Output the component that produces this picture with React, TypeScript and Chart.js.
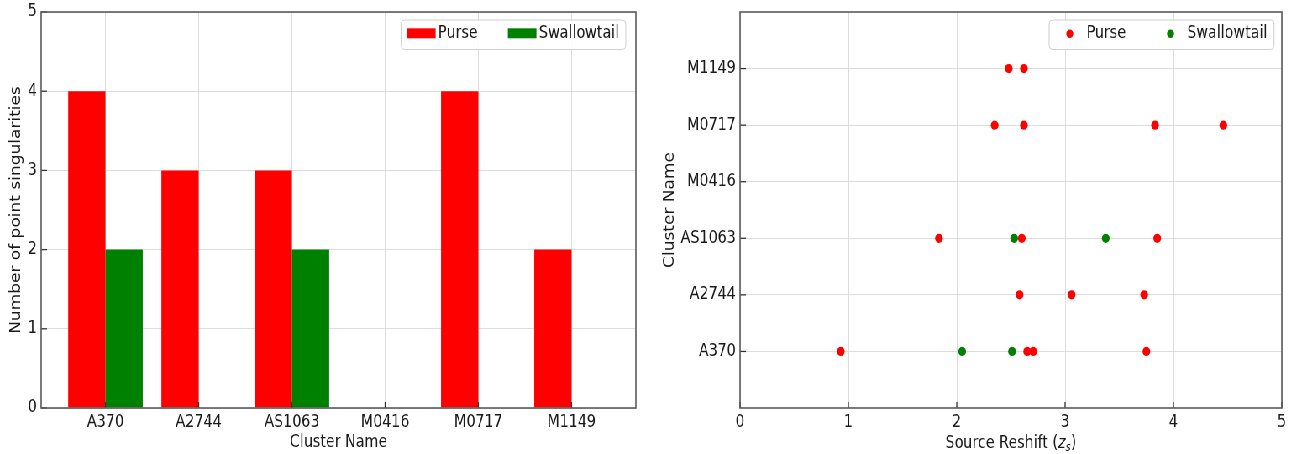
import React, { useEffect, useRef } from 'react';
import { Chart, registerables } from 'chart.js';

Chart.register(...registerables);

// ---------------- data ----------------
const clusters = ['A370', 'A2744', 'AS1063', 'M0416', 'M0717', 'M1149'];
const seriesNames = ['Purse', 'Swallowtail'];
const purseCounts = [4, 3, 3, 0, 4, 2];
const swallowtailCounts = [2, 0, 2, 0, 0, 0];
const purseRedshifts = [
  [0.93, 2.65, 2.705, 3.75],
  [2.58, 3.06, 3.73],
  [1.836, 2.6, 3.85],
  [],
  [2.35, 2.62, 3.83, 4.46],
  [2.48, 2.62],
];
const swallowtailRedshifts = [[2.05, 2.51], [], [2.53, 3.375], [], [], []];
const countTicks = [0, 1, 2, 3, 4, 5];
const redshiftTicks = [0, 1, 2, 3, 4, 5];

// ---------------- styles ----------------
const SX = 0.84;
const FAMILY = "'DejaVu Sans', sans-serif";
const FS = 17;
const TEXT = '#1a1a1a';
const GRID = '#dcdcdc';
const SPINE = '#5a5a5a';
const RED = '#ff0000';
const GREEN = '#008000';
const seriesColors = [RED, GREEN];

const font = { family: FAMILY, size: FS };

const framePlugin = {
  id: 'frame',
  afterDatasetsDraw(chart: any) {
    const { ctx, chartArea: a, scales } = chart;
    const xs = scales.x;
    const ys = scales.y;
    ctx.save();
    ctx.strokeStyle = '#333333';
    ctx.lineWidth = 1.3;
    xs.ticks.forEach((t: any) => {
      const px = xs.getPixelForValue(t.value);
      ctx.beginPath();
      ctx.moveTo(px, a.bottom);
      ctx.lineTo(px, a.bottom - 6);
      ctx.stroke();
    });
    ys.ticks.forEach((t: any) => {
      const py = ys.getPixelForValue(t.value);
      ctx.beginPath();
      ctx.moveTo(a.left, py);
      ctx.lineTo(a.left + 7, py);
      ctx.stroke();
    });
    ctx.strokeStyle = SPINE;
    ctx.lineWidth = 1.6;
    ctx.strokeRect(a.left, a.top, a.right - a.left, a.bottom - a.top);
    ctx.restore();
  },
};

const boxLegendPlugin = {
  id: 'boxLegend',
  afterDraw(chart: any, _args: any, opts: any) {
    const { ctx, chartArea: a } = chart;
    const ds = chart.data.datasets;
    ctx.save();
    ctx.font = `${FS}px ${FAMILY}`;
    const widths = ds.map((d: any) => ctx.measureText(d.label).width);
    const n = ds.length;
    let total = opts.padL + opts.padR + opts.itemGap * (n - 1);
    widths.forEach((w: number) => (total += opts.markerW + opts.gapMT + w));
    const right = a.right - opts.rightInset;
    const left = right - total;
    const top = a.top + 8;
    const h = 29.5;
    ctx.beginPath();
    ctx.roundRect(left, top, total, h, 4);
    ctx.fillStyle = 'rgba(255,255,255,0.85)';
    ctx.fill();
    ctx.strokeStyle = '#cfcfcf';
    ctx.lineWidth = 1;
    ctx.stroke();
    let x = left + opts.padL;
    const cy = top + 13.8;
    ds.forEach((d: any, i: number) => {
      ctx.fillStyle = d.backgroundColor;
      if (opts.kind === 'rect') {
        ctx.fillRect(x, top + 8.3, opts.markerW, 10);
      } else {
        ctx.beginPath();
        ctx.arc(x + opts.markerW / 2, cy, 4.2, 0, Math.PI * 2);
        ctx.fill();
      }
      ctx.fillStyle = TEXT;
      ctx.textBaseline = 'middle';
      ctx.textAlign = 'left';
      ctx.fillText(d.label, x + opts.markerW + opts.gapMT, cy);
      x += opts.markerW + opts.gapMT + widths[i] + opts.itemGap;
    });
    ctx.restore();
  },
};

const redshiftTitlePlugin = {
  id: 'redshiftTitle',
  afterDraw(chart: any) {
    const { ctx, chartArea: a } = chart;
    const parts = [
      { t: 'Source Reshift (', f: `${FS}px ${FAMILY}`, dy: 0 },
      { t: 'z', f: `italic ${FS}px ${FAMILY}`, dy: 0 },
      { t: 's', f: `italic ${FS * 0.7}px ${FAMILY}`, dy: 3.5 },
      { t: ')', f: `${FS}px ${FAMILY}`, dy: 0 },
    ];
    ctx.save();
    ctx.fillStyle = TEXT;
    ctx.textBaseline = 'alphabetic';
    ctx.textAlign = 'left';
    let total = 0;
    const ws = parts.map((p) => {
      ctx.font = p.f;
      const w = ctx.measureText(p.t).width;
      total += w;
      return w;
    });
    let x = (a.left + a.right) / 2 - total / 2;
    const base = 447.5;
    parts.forEach((p, i) => {
      ctx.font = p.f;
      ctx.fillText(p.t, x, base + p.dy);
      x += ws[i];
    });
    ctx.restore();
  },
};

const noVPad = (s: any) => {
  s.paddingTop = 0;
  s.paddingBottom = 0;
};

export default function App() {
  const leftRef = useRef<HTMLCanvasElement>(null);
  const rightRef = useRef<HTMLCanvasElement>(null);

  useEffect(() => {
    const left = new Chart(leftRef.current as HTMLCanvasElement, {
      type: 'bar',
      data: {
        datasets: [purseCounts, swallowtailCounts].map((vals, k) => ({
          label: seriesNames[k],
          data: clusters.map((_, i) => ({ x: i, y: vals[i] })),
          backgroundColor: seriesColors[k],
          borderWidth: 0,
          categoryPercentage: 0.8,
          barPercentage: 1.0,
        })),
      },
      options: {
        animation: false,
        responsive: false,
        layout: { padding: { top: 12, right: 15, left: 0, bottom: 0 } },
        plugins: {
          legend: { display: false },
          tooltip: { enabled: false },
          boxLegend: { kind: 'rect', padL: 7, markerW: 34, gapMT: 3, itemGap: 36, padR: 8, rightInset: 12 },
        } as any,
        scales: {
          x: {
            type: 'linear',
            min: -0.69,
            max: 5.69,
            offset: false,
            afterBuildTicks: (s: any) => {
              s.ticks = clusters.map((_, i) => ({ value: i }));
            },
            afterFit: (s: any) => {
              s.height = 46;
            },
            grid: { color: GRID, offset: false, drawTicks: false },
            border: { display: false },
            ticks: {
              callback: (v: any) => clusters[v] ?? '',
              font,
              color: TEXT,
              padding: 4,
              autoSkip: false,
              maxRotation: 0,
            },
            title: { display: true, text: 'Cluster Name', font, color: TEXT, padding: { top: 0, bottom: 1 } },
          },
          y: {
            type: 'linear',
            min: 0,
            max: 5,
            afterBuildTicks: (s: any) => {
              s.ticks = countTicks.map((v) => ({ value: v }));
            },
            afterFit: (s: any) => {
              s.width = 49;
              noVPad(s);
            },
            grid: { color: GRID, drawTicks: false },
            border: { display: false },
            ticks: { font, color: TEXT, padding: 5 },
            title: {
              display: true,
              text: 'Number of point singularities',
              font,
              color: TEXT,
              padding: { top: 9, bottom: 0 },
            },
          },
        },
      } as any,
      plugins: [framePlugin, boxLegendPlugin],
    });

    const right = new Chart(rightRef.current as HTMLCanvasElement, {
      type: 'scatter',
      data: {
        datasets: [purseRedshifts, swallowtailRedshifts].map((rows, k) => ({
          label: seriesNames[k],
          data: rows.flatMap((zs, i) => zs.map((z) => ({ x: z, y: i }))),
          backgroundColor: seriesColors[k],
          borderColor: seriesColors[k],
          borderWidth: 0,
          pointRadius: 4.6,
          pointHoverRadius: 4.6,
        })),
      },
      options: {
        animation: false,
        responsive: false,
        layout: { padding: { top: 12, right: 14, left: 0, bottom: 0 } },
        plugins: {
          legend: { display: false },
          tooltip: { enabled: false },
          boxLegend: { kind: 'dot', padL: 20, markerW: 9.2, gapMT: 15.3, itemGap: 48.4, padR: 8, rightInset: 9.2 },
        } as any,
        scales: {
          x: {
            type: 'linear',
            min: 0,
            max: 5,
            afterBuildTicks: (s: any) => {
              s.ticks = redshiftTicks.map((v) => ({ value: v }));
            },
            afterFit: (s: any) => {
              s.height = 46;
            },
            grid: { color: GRID, drawTicks: false },
            border: { display: false },
            ticks: { font, color: TEXT, padding: 4, autoSkip: false, maxRotation: 0 },
            title: { display: false },
          },
          y: {
            type: 'linear',
            min: -1,
            max: 6,
            afterBuildTicks: (s: any) => {
              s.ticks = clusters.map((_, i) => ({ value: i }));
            },
            afterFit: (s: any) => {
              s.width = 109;
              noVPad(s);
            },
            grid: { color: GRID, drawTicks: false },
            border: { display: false },
            ticks: { callback: (v: any) => clusters[v] ?? '', font, color: TEXT, padding: 5, autoSkip: false },
            title: { display: true, text: 'Cluster Name', font, color: TEXT, padding: { top: 15, bottom: 0 } },
          },
        },
      } as any,
      plugins: [framePlugin, boxLegendPlugin, redshiftTitlePlugin],
    });

    return () => {
      left.destroy();
      right.destroy();
    };
  }, []);

  return (
    <div
      style={{
        position: 'fixed',
        left: 0,
        top: 0,
        width: 1540,
        height: 454,
        display: 'flex',
        transform: `scaleX(${SX})`,
        transformOrigin: '0 0',
        background: '#ffffff',
      }}
    >
      <canvas ref={leftRef} width={772} height={454} style={{ width: 772, height: 454, display: 'block' }} />
      <canvas ref={rightRef} width={768} height={454} style={{ width: 768, height: 454, display: 'block' }} />
    </div>
  );
}
